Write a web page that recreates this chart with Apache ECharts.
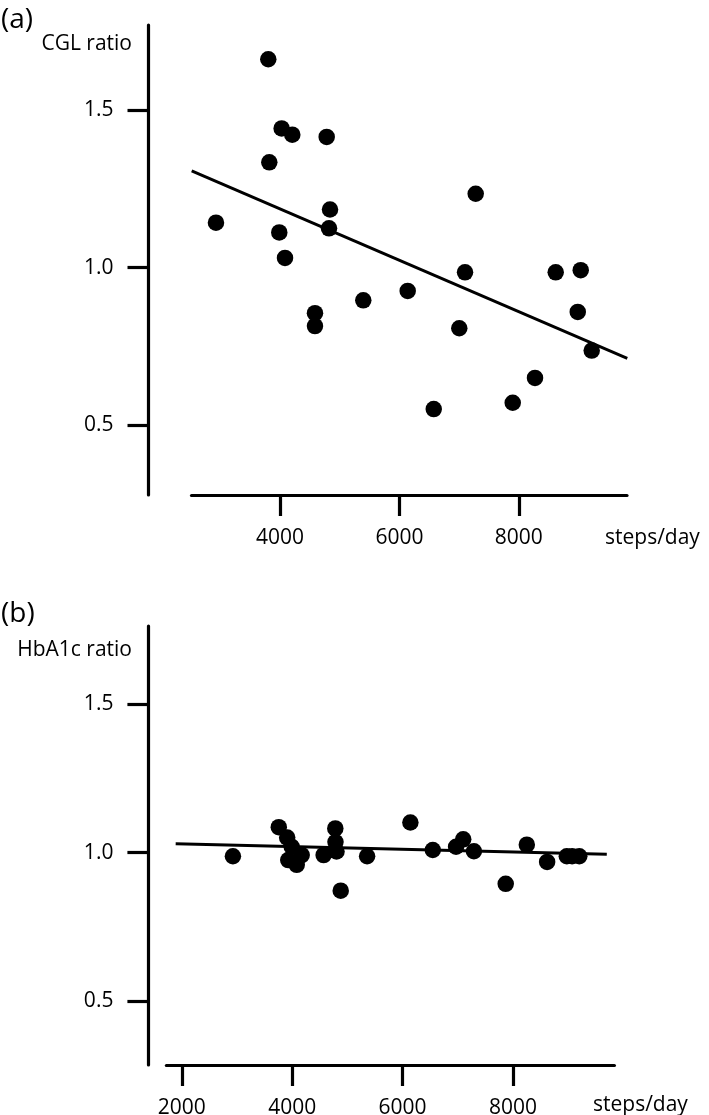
<!DOCTYPE html>
<html><head><meta charset="utf-8">
<script src="https://cdn.jsdelivr.net/npm/echarts@6/dist/echarts.min.js"></script>
<style>html,body{margin:0;padding:0;background:#fff}#c{width:709px;height:1115px}</style>
</head><body><div id="c"></div>
<script>
// Panel (a): CGL ratio vs steps/day
const stepsA = [3804, 4028, 4206, 4782, 3821, 2928, 3988, 4084, 4838, 4821, 7278, 4586,
                4586, 5395, 6139, 7099, 7003, 6575, 7898, 8271, 8618, 9037, 8987, 9221];
const cglRatio = [1.663, 1.443, 1.423, 1.416, 1.335, 1.143, 1.112, 1.031, 1.185, 1.125, 1.235, 0.855,
                  0.814, 0.896, 0.926, 0.985, 0.807, 0.550, 0.570, 0.649, 0.985, 0.992, 0.859, 0.736];
const trendAX = [2521, 9817];
const trendAY = [1.308, 0.711];

// Panel (b): HbA1c ratio vs steps/day
const stepsB = [2926, 3757, 3909, 3991, 3929, 4082, 4172, 4569, 4781, 4784, 4803, 4879,
                5357, 6141, 6547, 6969, 7098, 7292, 7868, 8250, 8618, 8975, 9071, 9201];
const hba1cRatio = [0.988, 1.086, 1.051, 1.020, 0.975, 0.959, 0.992, 0.992, 1.082, 1.036, 1.004, 0.872,
                    0.988, 1.102, 1.009, 1.020, 1.045, 1.005, 0.895, 1.027, 0.969, 0.988, 0.988, 0.988];
const trendBX = [1889, 9699];
const trendBY = [1.030, 0.995];

// Tick values
const xTicksA = [4000, 6000, 8000];
const xTicksB = [2000, 4000, 6000, 8000];
const yTicks = [0.5, 1.0, 1.5];

const FONT = 'Open Sans';
const pairs = (xs, ys) => xs.map((x, i) => [x, ys[i]]);

function xAxisDef(grid, min, max, ticks) {
  return {
    gridIndex: grid, type: 'value', min: min, max: max,
    axisLine: { show: true, onZero: false, lineStyle: { color: '#000', width: 3.2 } },
    axisTick: { show: true, customValues: ticks, length: 21, lineStyle: { color: '#000', width: 3.2 } },
    axisLabel: { customValues: ticks, margin: 43, verticalAlign: 'middle', fontSize: 21, fontFamily: FONT, color: '#000',
                 formatter: v => String(v) },
    splitLine: { show: false }
  };
}
function yAxisDef(grid, min, max, offset) {
  return {
    gridIndex: grid, type: 'value', min: min, max: max, offset: offset,
    axisLine: { show: true, onZero: false, lineStyle: { color: '#000', width: 3.2 } },
    axisTick: { show: true, customValues: yTicks, length: 21, lineStyle: { color: '#000', width: 3.2 } },
    axisLabel: { customValues: yTicks, margin: 35, fontSize: 21, fontFamily: FONT, color: '#000',
                 formatter: v => v.toFixed(1) },
    splitLine: { show: false }
  };
}

const chart = echarts.init(document.getElementById('c'), null, { renderer: 'canvas' });
chart.setOption({
  animation: false,
  backgroundColor: '#fff',
  grid: [
    { left: 191.5, top: 25, width: 435.5, height: 470, outerBoundsMode: 'none', containLabel: false },
    { left: 166.4, top: 626, width: 448, height: 439, outerBoundsMode: 'none', containLabel: false }
  ],
  xAxis: [ xAxisDef(0, 2518, 9812, xTicksA), xAxisDef(1, 1721, 9837, xTicksB) ],
  yAxis: [ yAxisDef(0, 0.2765, 1.772, 43), yAxisDef(1, 0.284, 1.7646, 18) ],
  series: [
    { type: 'line', xAxisIndex: 0, yAxisIndex: 0, data: pairs(trendAX, trendAY), symbol: 'none',
      lineStyle: { color: '#000', width: 2.9 }, z: 2 },
    { type: 'scatter', xAxisIndex: 0, yAxisIndex: 0, data: pairs(stepsA, cglRatio), symbolSize: 16.5,
      itemStyle: { color: '#000', opacity: 1 }, z: 3 },
    { type: 'line', xAxisIndex: 1, yAxisIndex: 1, data: pairs(trendBX, trendBY), symbol: 'none',
      lineStyle: { color: '#000', width: 2.9 }, z: 2 },
    { type: 'scatter', xAxisIndex: 1, yAxisIndex: 1, data: pairs(stepsB, hba1cRatio), symbolSize: 16.5,
      itemStyle: { color: '#000', opacity: 1 }, z: 3 }
  ],
  graphic: [
    { type: 'text', x: 1, y: 20.5, style: { text: '(a)', fontSize: 28, fontFamily: FONT, fill: '#000', align: 'left', verticalAlign: 'middle' } },
    { type: 'text', x: 132, y: 44, style: { text: 'CGL ratio', fontSize: 21, fontFamily: FONT, fill: '#000', align: 'right', verticalAlign: 'middle' } },
    { type: 'text', x: 605, y: 538, style: { text: 'steps/day', fontSize: 21, fontFamily: FONT, fill: '#000', align: 'left', verticalAlign: 'middle' } },
    { type: 'text', x: 1, y: 614, style: { text: '(b)', fontSize: 28, fontFamily: FONT, fill: '#000', align: 'left', verticalAlign: 'middle' } },
    { type: 'text', x: 132, y: 650.5, style: { text: 'HbA1c ratio', fontSize: 21, fontFamily: FONT, fill: '#000', align: 'right', verticalAlign: 'middle' } },
    { type: 'text', x: 593, y: 1105, style: { text: 'steps/day', fontSize: 21, fontFamily: FONT, fill: '#000', align: 'left', verticalAlign: 'middle' } }
  ]
});
</script>
</body></html>
